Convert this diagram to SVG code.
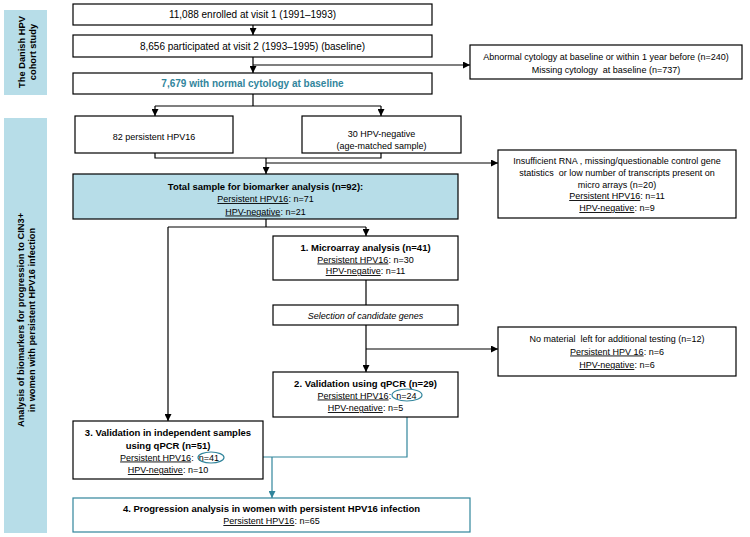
<svg xmlns="http://www.w3.org/2000/svg" width="750" height="537" viewBox="0 0 750 537">
<style>
text{font-family:"Liberation Sans",Arial,sans-serif;font-size:9px;fill:#000;text-anchor:middle}
.big{font-size:10px}
.b{font-weight:bold;font-size:9.5px}
.bar{font-weight:bold;font-size:9.3px}
.i{font-style:italic}
.teal{fill:#31859c}
.u{text-decoration:underline}
.box{fill:#fff;stroke:#000;stroke-width:1.2}
.fill{fill:#b7dde8;stroke:#000;stroke-width:1.2}
.tbox{fill:#fff;stroke:#31859c;stroke-width:1.2}
.side{fill:#b7dde8}
.ln{fill:none;stroke:#000;stroke-width:1.2}
.tl{fill:none;stroke:#31859c;stroke-width:1.2}
.arr{marker-end:url(#ah)}
.tarr{marker-end:url(#tah)}
</style>
<defs>
<marker id="ah" viewBox="0 0 7 7" refX="7" refY="3.5" markerWidth="7" markerHeight="7" markerUnits="userSpaceOnUse" orient="auto"><path d="M0,0 L7,3.5 L0,7 z" fill="#000"/></marker>
<marker id="tah" viewBox="0 0 7 7" refX="7" refY="3.5" markerWidth="7" markerHeight="7" markerUnits="userSpaceOnUse" orient="auto"><path d="M0,0 L7,3.5 L0,7 z" fill="#31859c"/></marker>
</defs>

<g id="bar-cohort">
<rect class="side" x="4" y="10" width="43" height="85"/>
<text class="bar" transform="translate(25,52) rotate(-90)">The Danish HPV</text>
<text class="bar" transform="translate(35.5,52) rotate(-90)">cohort study</text>
</g>
<g id="bar-analysis">
<rect class="side" x="4" y="118" width="43" height="415"/>
<text class="bar" transform="translate(24,320) rotate(-90)">Analysis of biomarkers for progression to CIN3+</text>
<text class="bar" transform="translate(35,320) rotate(-90)">in women with persistent HPV16 infection</text>
</g>

<g id="connectors">
<path class="ln arr" d="M253,25 V35"/>
<path class="ln arr" d="M253,57 V73"/>
<path class="ln arr" d="M253,65 H470"/>
<path class="ln" d="M253,94 V106 M155,106 H381"/>
<path class="ln arr" d="M155,106 V116"/>
<path class="ln arr" d="M381,106 V116"/>
<path class="ln" d="M155,153 V158 H381 V153"/>
<path class="ln arr" d="M266,158 V174"/>
<path class="ln arr" d="M266,163 H498"/>
<path class="ln" d="M266,219 V227 M168,227 H366"/>
<path class="ln arr" d="M366,227 V236"/>
<path class="ln arr" d="M168,227 V421"/>
<path class="ln" d="M366,280 V305"/>
<path class="ln arr" d="M366,325 V372"/>
<path class="ln arr" d="M366,349 H498"/>
<path class="tl" d="M407,401 V457 H224"/>
<path class="tl tarr" d="M272,457 V498"/>
</g>

<g id="n-enrolled">
<rect class="box" x="73" y="4" width="359" height="21"/>
<text class="big" x="252.5" y="18">11,088 enrolled at visit 1 (1991–1993)</text>
</g>
<g id="n-visit2">
<rect class="box" x="73" y="35" width="359" height="22"/>
<text class="big" x="252.5" y="49.5">8,656 participated at visit 2 (1993–1995) (baseline)</text>
</g>
<g id="n-normal">
<rect class="box" x="73" y="73" width="359" height="21"/>
<text class="big teal" style="font-weight:bold" x="252.5" y="87">7,679 with normal cytology at baseline</text>
</g>
<g id="n-excluded1">
<rect class="box" x="470" y="45" width="272" height="34"/>
<text x="606" y="60">Abnormal cytology at baseline or within 1 year before (n=240)</text>
<text x="606" y="73" xml:space="preserve">Missing cytology  at baseline (n=737)</text>
</g>
<g id="n-hpv16">
<rect class="box" x="75" y="116" width="158" height="37"/>
<text x="154" y="140">82 persistent HPV16</text>
</g>
<g id="n-hpvneg">
<rect class="box" x="302" y="116" width="159" height="37"/>
<text x="381.5" y="136.5">30 HPV-negative</text>
<text x="381.5" y="149">(age-matched sample)</text>
</g>
<g id="n-total">
<rect class="fill" x="73" y="174" width="385" height="45"/>
<text class="b" x="265.5" y="189.5">Total sample for biomarker analysis (n=92):</text>
<text x="265.5" y="202"><tspan class="u">Persistent HPV16</tspan>: n=71</text>
<text x="265.5" y="214.5"><tspan class="u">HPV-negative</tspan>: n=21</text>
</g>
<g id="n-excluded2">
<rect class="box" x="498" y="150" width="238" height="68"/>
<text x="617" y="164">Insufficient RNA , missing/questionable control gene</text>
<text x="617" y="176" xml:space="preserve">statistics  or low number of transcripts present on</text>
<text x="617" y="187.5">micro arrays (n=20)</text>
<text x="617" y="199"><tspan class="u">Persistent HPV16</tspan>: n=11</text>
<text x="617" y="211"><tspan class="u">HPV-negative</tspan>: n=9</text>
</g>
<g id="n-microarray">
<rect class="box" x="273" y="236" width="185" height="44"/>
<text class="b" x="365.5" y="251">1. Microarray analysis (n=41)</text>
<text x="365.5" y="262.5"><tspan class="u">Persistent HPV16</tspan>: n=30</text>
<text x="365.5" y="274"><tspan class="u">HPV-negative</tspan>: n=11</text>
</g>
<g id="n-selection">
<rect class="box" x="273" y="305" width="185" height="20"/>
<text class="i" x="365.5" y="318.5">Selection of candidate genes</text>
</g>
<g id="n-excluded3">
<rect class="box" x="498" y="327" width="238" height="49"/>
<text x="617" y="341.5" xml:space="preserve">No material  left for additional testing (n=12)</text>
<text x="617" y="354.5"><tspan class="u">Persistent HPV 16</tspan>: n=6</text>
<text x="617" y="368"><tspan class="u">HPV-negative</tspan>: n=6</text>
</g>
<g id="n-validation2">
<rect class="box" x="273" y="372" width="185" height="45"/>
<text class="b" x="365.5" y="386.5">2. Validation using qPCR (n=29)</text>
<text x="367" y="398.5"><tspan class="u">Persistent HPV16</tspan>:<tspan dx="5">n=24</tspan></text>
<text x="365.5" y="411"><tspan class="u">HPV-negative</tspan>: n=5</text>
<ellipse class="tl" cx="407" cy="395" rx="15" ry="6"/>
</g>
<g id="n-validation3">
<rect class="box" x="73" y="421" width="190" height="58"/>
<text class="b" x="168" y="436">3. Validation in independent samples</text>
<text class="b" x="168" y="448.5">using qPCR (n=51)</text>
<text x="169.5" y="460.5"><tspan class="u">Persistent HPV16</tspan>:<tspan dx="5">n=41</tspan></text>
<text x="168" y="473"><tspan class="u">HPV-negative</tspan>: n=10</text>
<ellipse class="tl" cx="211" cy="457.5" rx="13" ry="5.5"/>
</g>
<g id="n-progression">
<rect class="tbox" x="73" y="498" width="397" height="34"/>
<text class="b" x="271.5" y="512">4. Progression analysis in women with persistent HPV16 infection</text>
<text x="271.5" y="524"><tspan class="u">Persistent HPV16</tspan>: n=65</text>
</g>
</svg>
